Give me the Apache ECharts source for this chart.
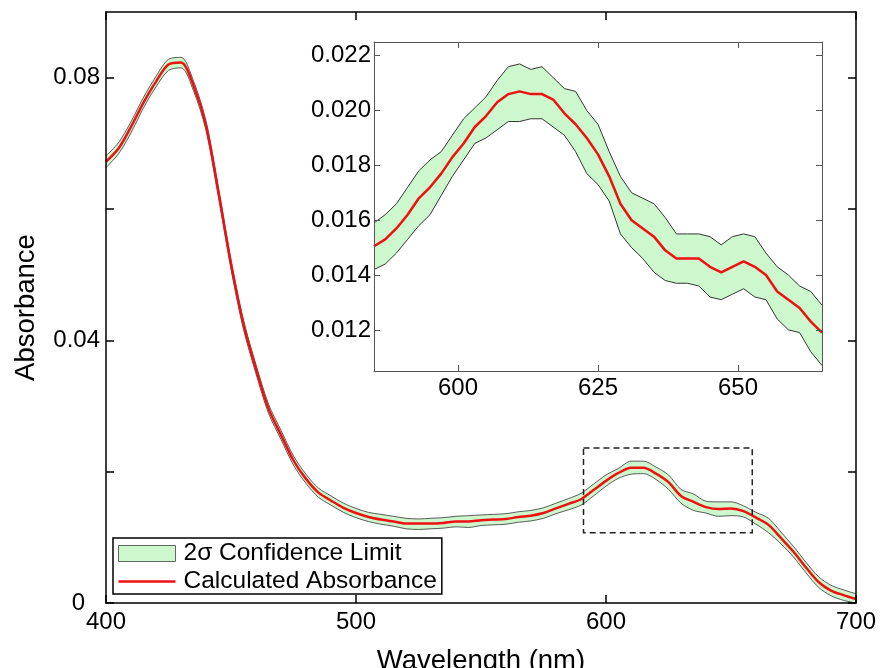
<!DOCTYPE html>
<html>
<head>
<meta charset="utf-8">
<script src="https://cdn.jsdelivr.net/npm/echarts@6/dist/echarts.min.js"></script>
<style>
  html, body { margin: 0; padding: 0; background: #fff; }
  #chart { width: 881px; height: 668px; }
</style>
</head>
<body>
<div id="chart"></div>
<script>
// main spectrum, 5 nm steps
var mainWl = [400, 405, 410, 415, 420, 425, 430, 435, 440, 445, 450, 455, 460, 465, 470, 475, 480, 485, 490, 495,
  500, 505, 510, 515, 520, 525, 530, 535, 540, 545, 550, 555, 560, 565, 570, 575, 580, 585, 590, 595,
  600, 605, 610, 615, 620, 625, 630, 635, 640, 645, 650, 655, 660, 665, 670, 675, 680, 685, 690, 695, 700]
var mainAbs = [0.0672, 0.0692, 0.0725, 0.0762, 0.0794, 0.0820, 0.0823, 0.0788, 0.0727, 0.0625, 0.0516, 0.0424, 0.0356, 0.0296, 0.0256, 0.0217, 0.0189, 0.0168, 0.0156, 0.0145,
  0.0137, 0.0131, 0.0127, 0.0124, 0.0121, 0.0121, 0.0121, 0.0122, 0.0124, 0.0124, 0.0126, 0.0127, 0.0128, 0.0131, 0.0133, 0.0137, 0.0144, 0.0151, 0.0158, 0.0172,
  0.0186, 0.0198, 0.0206, 0.0206, 0.0197, 0.0184, 0.0163, 0.0154, 0.0146, 0.0143, 0.0144, 0.0140, 0.0130, 0.0119, 0.0099, 0.0078, 0.0054, 0.0032, 0.0019, 0.0012, 0.0006]
var mainHi = [0.0681, 0.0701, 0.0733, 0.0770, 0.0802, 0.0828, 0.0831, 0.0795, 0.0734, 0.0632, 0.0523, 0.0431, 0.0363, 0.0303, 0.0263, 0.0224, 0.0196, 0.0175, 0.0163, 0.0152,
  0.0144, 0.0138, 0.0135, 0.0132, 0.0129, 0.0128, 0.0129, 0.0130, 0.0132, 0.0133, 0.0134, 0.0135, 0.0136, 0.0139, 0.0141, 0.0145, 0.0152, 0.0159, 0.0167, 0.0181,
  0.0195, 0.0205, 0.0216, 0.0216, 0.0207, 0.0195, 0.0173, 0.0166, 0.0155, 0.0154, 0.0154, 0.0148, 0.0138, 0.0129, 0.0108, 0.0086, 0.0062, 0.0040, 0.0027, 0.0020, 0.0014]
var mainLo = [0.0663, 0.0684, 0.0716, 0.0754, 0.0786, 0.0811, 0.0815, 0.0780, 0.0720, 0.0618, 0.0509, 0.0417, 0.0349, 0.0289, 0.0249, 0.0210, 0.0182, 0.0161, 0.0149, 0.0138,
  0.0130, 0.0124, 0.0120, 0.0117, 0.0113, 0.0112, 0.0113, 0.0114, 0.0116, 0.0115, 0.0118, 0.0119, 0.0120, 0.0123, 0.0125, 0.0129, 0.0136, 0.0142, 0.0149, 0.0163,
  0.0178, 0.0190, 0.0196, 0.0197, 0.0188, 0.0173, 0.0152, 0.0141, 0.0137, 0.0132, 0.0133, 0.0131, 0.0120, 0.0107, 0.0090, 0.0070, 0.0046, 0.0024, 0.0011, 0.0004, 0.0000]

// inset, 2 nm steps
var insetWl = [585, 587, 589, 591, 593, 595, 597, 599, 601, 603, 605, 607, 609, 611, 613, 615, 617, 619, 621, 623,
  625, 627, 629, 631, 633, 635, 637, 639, 641, 643, 645, 647, 649, 651, 653, 655, 657, 659, 661, 663, 665]
var insetAbs = [0.01505, 0.0153, 0.0157, 0.0162, 0.0168, 0.0172, 0.0177, 0.0183, 0.0188, 0.0194, 0.0198, 0.0203, 0.0206, 0.0207, 0.0206, 0.0206, 0.0204, 0.0199, 0.0195, 0.0190,
  0.0184, 0.0176, 0.0166, 0.0160, 0.0157, 0.0154, 0.0149, 0.0146, 0.0146, 0.0146, 0.0143, 0.0141, 0.0143, 0.0145, 0.0143, 0.0140, 0.0134, 0.0131, 0.0128, 0.0123, 0.0119]
var insetHi = [0.0159, 0.0162, 0.0166, 0.0172, 0.0178, 0.0182, 0.0185, 0.0191, 0.0197, 0.0201, 0.0205, 0.0211, 0.0216, 0.0217, 0.0215, 0.0216, 0.0212, 0.0208, 0.0207, 0.0200,
  0.0195, 0.0185, 0.0176, 0.0170, 0.0168, 0.0166, 0.0161, 0.0155, 0.0155, 0.0155, 0.0154, 0.0151, 0.0154, 0.0155, 0.0154, 0.0148, 0.0143, 0.0140, 0.0136, 0.0134, 0.0129]
var insetLo = [0.0142, 0.0144, 0.0148, 0.0153, 0.0158, 0.0162, 0.0169, 0.0176, 0.0182, 0.0188, 0.0190, 0.0193, 0.0196, 0.0196, 0.0197, 0.0197, 0.0194, 0.0191, 0.0185, 0.0177,
  0.0173, 0.0167, 0.0155, 0.0150, 0.0146, 0.0141, 0.0138, 0.0137, 0.0137, 0.0136, 0.0132, 0.0131, 0.0133, 0.0135, 0.0132, 0.0131, 0.0124, 0.0120, 0.0119, 0.0112, 0.0107]

var mainYTicks = [0, 0.02, 0.04, 0.06, 0.08]
var mainYLabels = [0, 0.04, 0.08]
var mainXTicks = [400, 500, 600, 700]
var insetXTicks = [600, 625, 650]
var insetYTicks = [0.012, 0.014, 0.016, 0.018, 0.020, 0.022]
var zoomBox = [[591, 0.0236], [658.5, 0.0107]]

var font = 'Liberation Sans, Arial, sans-serif'

function pairs (xs, ys) {
  return xs.map(function (x, i) { return [x, ys[i]] })
}

var myChart = echarts.init(document.getElementById('chart'))

// one axis, used for the bottom/left ones and the mirrored top/right tick rows
function makeAxis (grid, min, max, ticks, pos, labels, color, tickLen) {
  var w = grid === 0 ? 1.5 : 1
  return {
    type: 'value', gridIndex: grid, min: min, max: max, position: pos, z: 10,
    splitLine: { show: false },
    axisLine: { show: true, onZero: false, lineStyle: { color: color, width: w } },
    axisTick: { show: true, inside: true, length: tickLen, customValues: ticks, lineStyle: { color: color, width: w } },
    axisLabel: { show: labels, customValues: ticks, color: '#000', fontSize: 24, fontFamily: font, margin: grid === 0 ? 7 : 5 }
  }
}

var xAxes = [
  makeAxis(0, 400, 700, mainXTicks, 'bottom', true, '#000', 8),
  makeAxis(0, 400, 700, mainXTicks, 'top', false, '#000', 8),
  makeAxis(1, 585, 665, insetXTicks, 'bottom', true, '#555', 6),
  makeAxis(1, 585, 665, insetXTicks, 'top', false, '#555', 6)
]
xAxes[0].name = 'Wavelength (nm)'
xAxes[0].nameLocation = 'middle'
xAxes[0].nameGap = 44
xAxes[0].nameTextStyle = { fontSize: 27.5, fontFamily: font, color: '#000' }

var yAxes = [
  makeAxis(0, 0, 0.09, mainYTicks, 'left', true, '#000', 8),
  makeAxis(0, 0, 0.09, mainYTicks, 'right', false, '#000', 8),
  makeAxis(1, 0.0105, 0.0225, insetYTicks, 'left', true, '#555', 6),
  makeAxis(1, 0.0105, 0.0225, insetYTicks, 'right', false, '#555', 6)
]
yAxes[0].axisLabel.customValues = mainYLabels
yAxes[0].axisLabel.margin = 6
yAxes[0].axisLabel.formatter = function (v) { return v === 0 ? '{z|0}' : String(v) }
yAxes[0].axisLabel.rich = { z: { fontSize: 24, fontFamily: font, color: '#000', padding: [0, 15, 0, 0] } }
yAxes[0].name = 'Absorbance'
yAxes[0].nameLocation = 'middle'
yAxes[0].nameGap = 66
yAxes[0].nameTextStyle = { fontSize: 27.5, fontFamily: font, color: '#000' }
yAxes[2].axisLabel.formatter = function (v) { return v.toFixed(3) }
yAxes[2].axisLabel.margin = 3

var bandFill = '#cdf7cd'
var edge = '#333'
var red = '#ee1111'

var option = {
  animation: false,
  backgroundColor: '#fff',
  grid: [
    { left: 106, top: 12, width: 750, height: 591, outerBoundsMode: 'none', containLabel: false },
    { left: 374, top: 42, width: 448, height: 329, outerBoundsMode: 'none', containLabel: false, show: true, borderWidth: 0, backgroundColor: '#fff', z: 5 }
  ],
  xAxis: xAxes,
  yAxis: yAxes,
  legend: {
    orient: 'vertical',
    left: 113, top: 538,
    itemWidth: 57, itemHeight: 16, itemGap: 3,
    padding: [3, 5, 0, 5],
    borderColor: '#000', borderWidth: 1.5, borderRadius: 0,
    backgroundColor: '#fff',
    selectedMode: false,
    textStyle: { fontSize: 24.5, fontFamily: font, color: '#000', padding: [0, 0, 0, 3] },
    data: [
      { name: '2σ Confidence Limit', icon: 'rect', itemStyle: { color: bandFill, borderColor: '#666', borderWidth: 1 } },
      // thin bar; the bare moves keep the full 57x16 box
      { name: 'Calculated Absorbance', icon: 'path://M0,0 M0,6.8 L57,6.8 L57,9.2 L0,9.2 Z M57,16', itemStyle: { color: red, borderWidth: 0 } }
    ]
  },
  series: [
    // band: green fill under the upper edge, white fill under the lower edge
    {
      name: '2σ Confidence Limit', type: 'line', xAxisIndex: 0, yAxisIndex: 0, smooth: 0.3, z: 2,
      symbol: 'none', lineStyle: { color: edge, width: 0.8 }, itemStyle: { color: bandFill },
      areaStyle: { color: bandFill, opacity: 1, origin: 'start' }, data: pairs(mainWl, mainHi)
    },
    {
      name: 'mainLo', type: 'line', xAxisIndex: 0, yAxisIndex: 0, smooth: 0.3, z: 2,
      symbol: 'none', lineStyle: { color: edge, width: 0.8 },
      areaStyle: { color: '#fff', opacity: 1, origin: 'start' }, data: pairs(mainWl, mainLo)
    },
    {
      name: 'Calculated Absorbance', type: 'line', xAxisIndex: 0, yAxisIndex: 0, smooth: 0.3, z: 3,
      symbol: 'none', lineStyle: { color: red, width: 2.5 }, itemStyle: { color: red },
      data: pairs(mainWl, mainAbs)
    },
    {
      // dashed zoom box, on top of the band
      name: 'zoomBox', type: 'line', xAxisIndex: 0, yAxisIndex: 0, z: 4,
      symbol: 'none', lineStyle: { opacity: 0 }, data: [],
      markArea: {
        silent: true,
        z: 4,
        label: { show: false },
        itemStyle: { color: 'rgba(0,0,0,0)', borderColor: '#222', borderWidth: 1.5, borderType: [6, 4] },
        data: [[{ coord: zoomBox[0] }, { coord: zoomBox[1] }]]
      }
    },
    {
      name: 'insetHi', type: 'line', xAxisIndex: 2, yAxisIndex: 2, z: 6,
      symbol: 'none', lineStyle: { color: edge, width: 1 },
      areaStyle: { color: bandFill, opacity: 1, origin: 'start' }, data: pairs(insetWl, insetHi)
    },
    {
      name: 'insetLo', type: 'line', xAxisIndex: 2, yAxisIndex: 2, z: 6,
      symbol: 'none', lineStyle: { color: edge, width: 1 },
      areaStyle: { color: '#fff', opacity: 1, origin: 'start' }, data: pairs(insetWl, insetLo)
    },
    {
      name: 'insetAbs', type: 'line', xAxisIndex: 2, yAxisIndex: 2, z: 7,
      symbol: 'none', lineStyle: { color: red, width: 2.5 }, data: pairs(insetWl, insetAbs)
    }
  ]
}
myChart.setOption(option)
</script>
</body>
</html>
